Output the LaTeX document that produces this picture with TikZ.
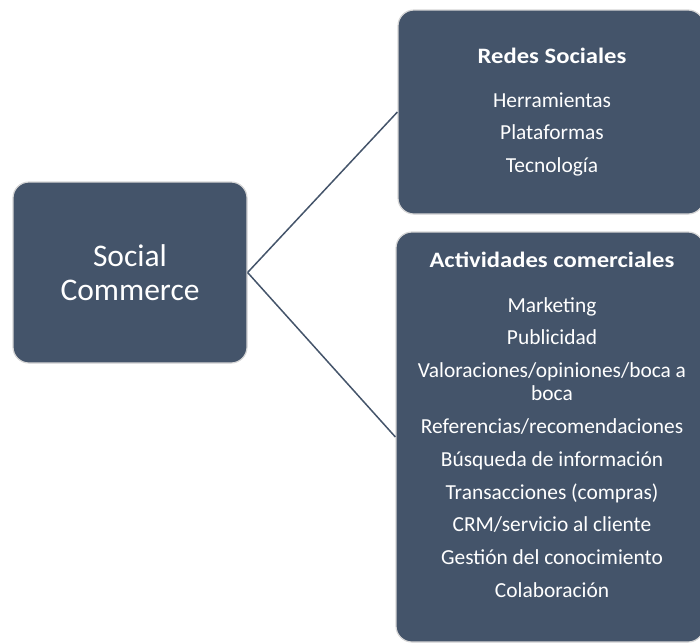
\documentclass[tikz,border=0pt]{standalone}
\usepackage{fontspec}
\setmainfont{Carlito}
\usepackage{tikz}
\definecolor{slate}{HTML}{44546A}
\definecolor{rim}{HTML}{D6D6D6}

\tikzset{
    box/.style={fill=slate, draw=rim, line width=1.2pt, rounded corners=16pt, inner sep=0pt},
    boxtext/.style={text=white, align=center, inner sep=0pt, font=\fontsize{21.4}{23}\selectfont},
    link/.style={draw=slate, line width=1.5pt}
}
% wide bold heading for the two lists
\newcommand{\boxtitle}[1]{\scalebox{1.12}[1]{\fontsize{22}{23}\selectfont\bfseries #1}}

\begin{document}
\begin{tikzpicture}[x=1pt, y=-1pt]
    \useasboundingbox (0,0) rectangle (700,643);
    % the three blocks
    \node[box, minimum width=234pt, minimum height=181pt, text=white, align=center,
          font=\fontsize{31.5}{34}\selectfont] (sc) at (130,272.5) {Social\\Commerce};
    \node[box, minimum width=306pt, minimum height=204pt] (redes) at (551,112) {};
    \node[box, minimum width=308pt, minimum height=410pt] (activ) at (550,437) {};
    % branches
    \draw[link] (sc.east) -- (redes.west);
    \draw[link] (sc.east) -- (activ.west);
    % contents
    \node[boxtext, anchor=north] (redestxt) at (552,48)
        {\boxtitle{Redes Sociales}\\[20.5pt]Herramientas\\[9.5pt]Plataformas\\[9.5pt]Tecnología};
    \node[boxtext, anchor=north] (activtxt) at (552,252)
        {\boxtitle{Actividades comerciales}\\[21.5pt]Marketing\\[9.8pt]Publicidad\\[9.8pt]Valoraciones/opiniones/boca a\\boca\\[9.8pt]Referencias/recomendaciones\\[9.8pt]Búsqueda de información\\[9.8pt]Transacciones (compras)\\[9.8pt]CRM/servicio al cliente\\[9.8pt]Gestión del conocimiento\\[9.8pt]Colaboración};
\end{tikzpicture}
\end{document}
